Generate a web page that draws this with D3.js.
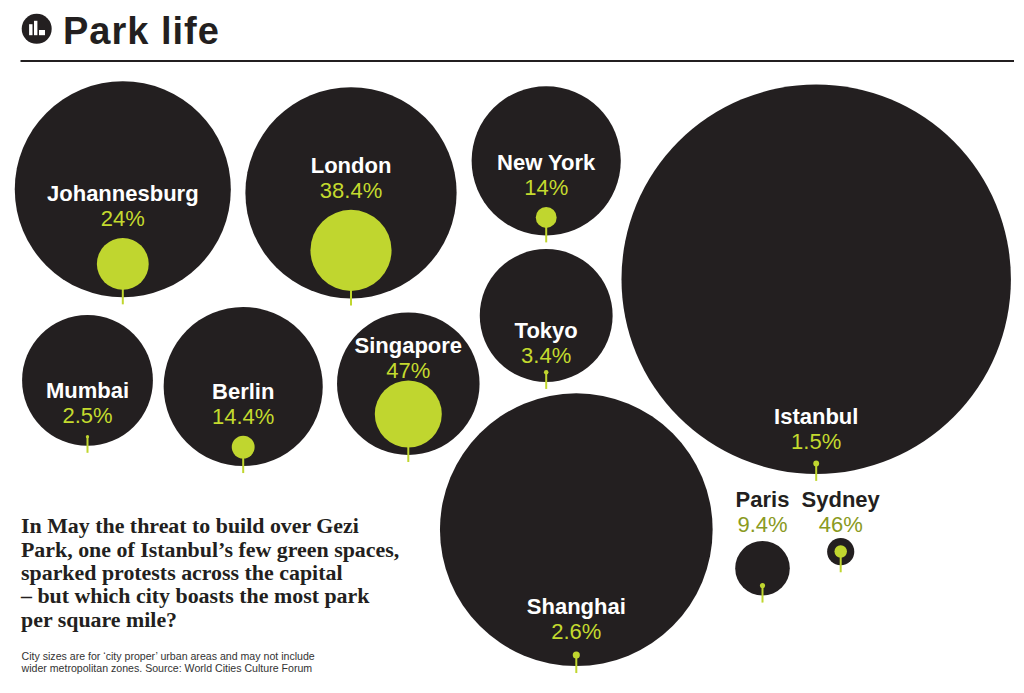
<!DOCTYPE html>
<html>
<head>
<meta charset="utf-8">
<script src="https://cdn.jsdelivr.net/npm/d3@7"></script>
<style>
  body { margin: 0; background: #fff; }
  svg { display: block; }
</style>
</head>
<body>
<svg id="chart"></svg>
<script>
// city area (km², "city proper") and share of it that is park (%)
const cities    = ["Johannesburg", "London", "New York", "Istanbul", "Tokyo", "Mumbai", "Berlin", "Singapore", "Shanghai", "Paris", "Sydney"];
const cityArea  = [1645, 1572, 784, 5343, 622, 603, 892, 716, 2620, 105, 26];
const parkShare = [24, 38.4, 14, 1.5, 3.4, 2.5, 14.4, 47, 2.6, 9.4, 46];

const titleText = "Park life";
const introLines = [
  "In May the threat to build over Gezi",
  "Park, one of Istanbul\u2019s few green spaces,",
  "sparked protests across the capital",
  "\u2013 but which city boasts the most park",
  "per square mile?"
];
const noteLines = [
  "City sizes are for \u2018city proper\u2019 urban areas and may not include",
  "wider metropolitan zones. Source: World Cities Culture Forum"
];

// hand placed layout, like the print original
const layout = {
  "Johannesburg": { x: 122.8, y: 189.3 },
  "London":       { x: 351.0, y: 192.8 },
  "New York":     { x: 546.2, y: 160.8 },
  "Istanbul":     { x: 816.2, y: 279.2 },
  "Tokyo":        { x: 546.2, y: 315.5, dy: 5 },
  "Mumbai":       { x: 87.5,  y: 380.4 },
  "Berlin":       { x: 243.2, y: 386.5 },
  "Singapore":    { x: 408.3, y: 383.7, dy: 10 },
  "Shanghai":     { x: 576.3, y: 529.7 },
  "Paris":        { x: 762.5, y: 568.3, outside: 531.7 },
  "Sydney":       { x: 840.7, y: 551.7, outside: 531.7 }
};

function getConfig() {
  let width = 1024;
  let height = 693;
  let container = d3.select("#chart")
    .attr("width", width)
    .attr("height", height);
  return { width, height, container };
}

function getScales() {
  // circle area proportional to city area
  let rScale = d3.scaleSqrt()
    .domain([0, d3.max(cityArea)])
    .range([0, 194.7]);
  // park circle: radius is the share of the city radius
  let shareScale = d3.scaleLinear()
    .domain([0, 100])
    .range([0, 1]);
  return { rScale, shareScale };
}

function drawHeader(config) {
  let { container } = config;
  let icon = container.append("g").attr("transform", "translate(36.7,28.8)");
  icon.append("circle").attr("r", 15).attr("fill", "#231f20");
  let bars = [[-7.6, -4.6, 3.4, 11], [-2.7, -8, 3.4, 14.4], [2.3, 1.2, 6, 5.2]];
  icon.selectAll("rect").data(bars).enter().append("rect")
    .attr("x", d => d[0]).attr("y", d => d[1])
    .attr("width", d => d[2]).attr("height", d => d[3])
    .attr("fill", "#fff");

  container.append("text")
    .attr("x", 63)
    .attr("y", 43.5)
    .attr("font-family", "Liberation Sans, Arial, sans-serif")
    .attr("font-weight", "bold")
    .attr("font-size", 38)
    .attr("letter-spacing", 1)
    .attr("fill", "#231f20")
    .text(titleText);

  container.append("line")
    .attr("x1", 20.5).attr("x2", 1014)
    .attr("y1", 61).attr("y2", 61)
    .attr("stroke", "#231f20")
    .attr("stroke-width", 2);
}

function drawCircles(data, scales, config) {
  let { container } = config;
  let { rScale, shareScale } = scales;

  let groups = container.selectAll("g.city")
    .data(data)
    .enter()
    .append("g")
    .attr("class", "city")
    .attr("transform", d => `translate(${layout[d.city].x},${layout[d.city].y})`);

  groups.append("circle")
    .attr("r", d => rScale(d.area))
    .attr("fill", "#231f20");

  // stem from the park circle down past the city edge
  groups.append("line")
    .attr("x1", 0).attr("x2", 0)
    .attr("y1", d => d.gy)
    .attr("y2", d => rScale(d.area) + 7)
    .attr("stroke", "#c0d62f")
    .attr("stroke-width", 2);

  groups.append("circle")
    .attr("cy", d => d.gy)
    .attr("r", d => Math.max(1.6, rScale(d.area) * shareScale(d.share)))
    .attr("fill", "#c0d62f");

  // labels
  groups.append("text")
    .attr("text-anchor", "middle")
    .attr("y", d => d.nameY)
    .attr("font-family", "Liberation Sans, Arial, sans-serif")
    .attr("font-weight", "bold")
    .attr("font-size", 22)
    .attr("fill", d => d.outside ? "#231f20" : "#fff")
    .text(d => d.city);

  groups.append("text")
    .attr("text-anchor", "middle")
    .attr("y", d => d.pctY)
    .attr("font-family", "Liberation Sans, Arial, sans-serif")
    .attr("font-size", 22)
    .attr("fill", d => d.outside ? "#8a9a22" : "#c4da2e")
    .text(d => d3.format("")(d.share) + "%");
}

function drawText(config) {
  let { container } = config;
  container.append("g").selectAll("text")
    .data(introLines)
    .enter()
    .append("text")
    .attr("x", 21)
    .attr("y", (d, i) => 533.3 + i * 23.35)
    .attr("font-family", "Liberation Serif, Times New Roman, serif")
    .attr("font-weight", "bold")
    .attr("font-size", 21.9)
    .attr("fill", "#231f20")
    .text(d => d);

  container.append("g").selectAll("text")
    .data(noteLines)
    .enter()
    .append("text")
    .attr("x", 21.5)
    .attr("y", (d, i) => 660 + i * 11.8)
    .attr("font-family", "Liberation Sans, Arial, sans-serif")
    .attr("font-size", 10.6)
    .attr("fill", "#333")
    .text(d => d);
}

function showData() {
  let config = getConfig();
  let scales = getScales();
  let { rScale, shareScale } = scales;

  let data = cities.map((city, i) => {
    let r = rScale(cityArea[i]);
    let gr = r * shareScale(parkShare[i]);
    let gy = r - 7.5 - gr;
    let L = layout[city];
    let pctY, nameY;
    if (L.outside) {
      pctY = L.outside - L.y;
    } else {
      pctY = gy - gr - 12 + (L.dy || 0);
    }
    nameY = pctY - 25;
    return { city, area: cityArea[i], share: parkShare[i], gy, pctY, nameY, outside: !!L.outside };
  });

  drawHeader(config);
  drawCircles(data, scales, config);
  drawText(config);
}

showData();
</script>
</body>
</html>
